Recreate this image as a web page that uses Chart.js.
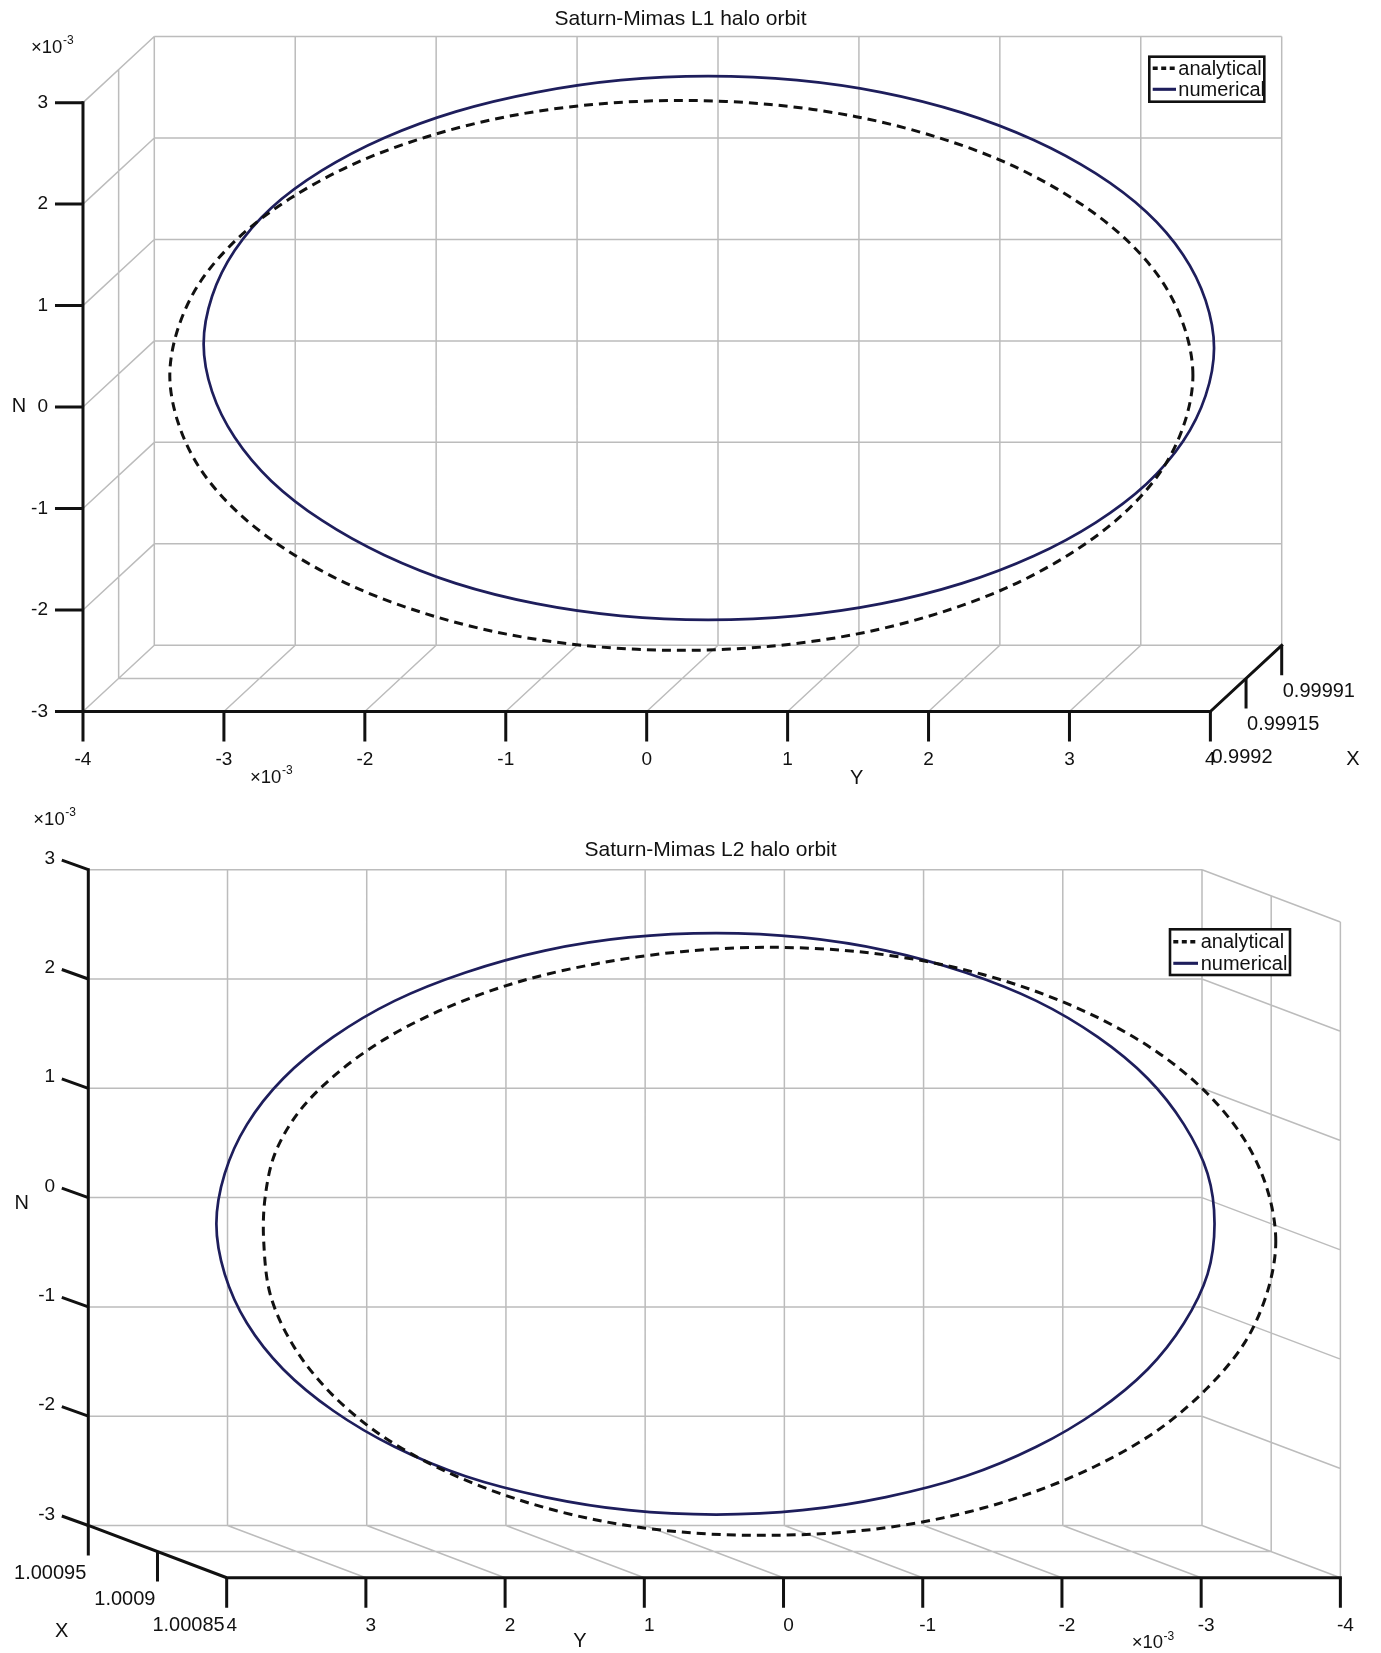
<!DOCTYPE html>
<html>
<head>
<meta charset="utf-8">
<title>Saturn-Mimas halo orbits</title>
<script src="https://cdn.jsdelivr.net/npm/chart.js@4/dist/chart.umd.min.js"></script>
<style>
  html, body { margin: 0; padding: 0; background: #fff; }
  #wrap { position: relative; width: 1381px; height: 1653px; }
  canvas { position: absolute; left: 0; }
  #l1 { top: 0; }
  #l2 { top: 800px; }
</style>
</head>
<body>
<div id="wrap">
  <canvas id="l1" width="1381" height="800"></canvas>
  <canvas id="l2" width="1381" height="853"></canvas>
</div>
<script>
// ---- axis ticks (Y and N in units of 1e-3) ----
const Y_TICKS = [-4, -3, -2, -1, 0, 1, 2, 3, 4];
const N_TICKS = [-3, -2, -1, 0, 1, 2, 3];
const DEPTH_TICKS = [0, 0.5, 1];                       // back, middle, front of the X axis
const L1_X_TICK_LABELS = ['0.99991', '0.99915', '0.9992'];
const L2_X_TICK_LABELS = ['1.00095', '1.0009', '1.00085'];
const SERIES_LABELS = ['analytical', 'numerical'];
const TITLES = ['Saturn-Mimas L1 halo orbit', 'Saturn-Mimas L2 halo orbit'];

// ---- L1 halo orbit, sampled around the loop ----
const L1_ANALYTICAL_Y = [3.37, 3.31, 3.15, 2.88, 2.52, 2.07, 1.55, 0.98, 0.37, -0.26, -0.89, -1.50, -2.07, -2.59, -3.04, -3.40, -3.67, -3.83, -3.89, -3.83, -3.67, -3.40, -3.04, -2.59, -2.07, -1.50, -0.89, -0.26, 0.37, 0.98, 1.55, 2.07, 2.52, 2.88, 3.15, 3.31];
const L1_ANALYTICAL_N = [-0.34, 0.13, 0.59, 1.02, 1.40, 1.74, 2.01, 2.21, 2.33, 2.37, 2.33, 2.21, 2.01, 1.74, 1.40, 1.02, 0.59, 0.13, -0.34, -0.81, -1.27, -1.70, -2.08, -2.42, -2.69, -2.89, -3.01, -3.05, -3.01, -2.89, -2.69, -2.42, -2.08, -1.70, -1.27, -0.81];
const L1_NUMERICAL_Y = [3.52, 3.46, 3.30, 3.04, 2.68, 2.24, 1.73, 1.16, 0.56, -0.07, -0.69, -1.29, -1.86, -2.37, -2.81, -3.17, -3.43, -3.59, -3.65, -3.59, -3.43, -3.17, -2.81, -2.37, -1.86, -1.29, -0.69, -0.07, 0.56, 1.16, 1.73, 2.24, 2.68, 3.04, 3.30, 3.46];
const L1_NUMERICAL_N = [-0.07, 0.40, 0.85, 1.27, 1.65, 1.98, 2.25, 2.45, 2.57, 2.61, 2.57, 2.45, 2.26, 2.00, 1.68, 1.31, 0.89, 0.44, -0.03, -0.50, -0.95, -1.38, -1.77, -2.11, -2.39, -2.59, -2.71, -2.75, -2.71, -2.59, -2.39, -2.12, -1.79, -1.41, -0.99, -0.54];

// ---- L2 halo orbit ----
const L2_ANALYTICAL_Y = [-4.53, -4.47, -4.31, -4.04, -3.68, -3.23, -2.71, -2.14, -1.53, -0.89, -0.26, 0.35, 0.92, 1.44, 1.87, 2.22, 2.49, 2.66, 2.73, 2.74, 2.69, 2.52, 2.25, 1.89, 1.44, 0.92, 0.35, -0.26, -0.89, -1.53, -2.14, -2.71, -3.23, -3.68, -4.04, -4.31, -4.47];
const L2_ANALYTICAL_N = [-0.40, 0.07, 0.52, 0.95, 1.33, 1.66, 1.93, 2.13, 2.25, 2.29, 2.25, 2.14, 1.97, 1.73, 1.45, 1.13, 0.78, 0.40, 0.00, -0.40, -0.90, -1.37, -1.80, -2.18, -2.50, -2.76, -2.95, -3.06, -3.09, -3.05, -2.93, -2.73, -2.46, -2.13, -1.74, -1.32, -0.86];
const L2_NUMERICAL_Y = [-4.09, -4.04, -3.87, -3.61, -3.25, -2.81, -2.30, -1.73, -1.13, -0.51, 0.12, 0.72, 1.29, 1.80, 2.24, 2.60, 2.86, 3.02, 3.08, 3.02, 2.86, 2.60, 2.24, 1.80, 1.29, 0.72, 0.12, -0.51, -1.13, -1.73, -2.30, -2.81, -3.25, -3.61, -3.87, -4.04];
const L2_NUMERICAL_N = [-0.24, 0.22, 0.67, 1.09, 1.47, 1.80, 2.06, 2.26, 2.38, 2.42, 2.38, 2.26, 2.06, 1.80, 1.47, 1.09, 0.67, 0.22, -0.24, -0.70, -1.15, -1.57, -1.95, -2.28, -2.55, -2.74, -2.86, -2.90, -2.86, -2.74, -2.55, -2.28, -1.95, -1.57, -1.15, -0.70];

// ---- styles ----
const FONT = "'Liberation Sans', Arial, Helvetica, sans-serif";
const INK = '#111111';
const GRID = '#bcbcbc';
const ANALYTICAL_STYLE = { color: '#111111', width: 3, dash: [9, 6] };
const NUMERICAL_STYLE = { color: '#1e1e5c', width: 2.7, dash: [] };

// Closed orbit: the samples plus one wrap-around point at each end so the
// spline keeps a smooth tangent where the loop closes; the two wrap segments
// themselves are left transparent.
function closedLoop(ys, ns) {
  const n = ys.length;
  const idx = [n - 1];
  for (let i = 0; i < n; i++) idx.push(i);
  idx.push(0, 1);
  return idx.map(i => ({ x: ys[i], y: ns[i] }));
}

function orbitDataset(label, ys, ns, style) {
  const data = closedLoop(ys, ns);
  const last = data.length - 1;
  return {
    label,
    data,
    showLine: true,
    pointRadius: 0,
    tension: 0.33,
    clip: false,
    borderColor: style.color,
    borderWidth: style.width,
    borderDash: style.dash,
    segment: {
      borderColor: c => (c.p0DataIndex === 0 || c.p1DataIndex === last) ? 'rgba(0,0,0,0)' : undefined
    }
  };
}

// Oblique box drawn around the back plane (the chart area): d = 0 is the back
// wall, d = 1 the front edge; depth shifts Y and N by cfg.depth per unit of d.
function makeBoxPlugin(cfg) {
  const yMin = Y_TICKS[0], yMax = Y_TICKS[Y_TICKS.length - 1];
  const nMin = N_TICKS[0], nMax = N_TICKS[N_TICKS.length - 1];

  function P(chart, Y, N, d) {
    return [chart.scales.x.getPixelForValue(Y + d * cfg.depth.dY),
            chart.scales.y.getPixelForValue(N + d * cfg.depth.dN)];
  }
  function seg(ctx, a, b) { ctx.moveTo(a[0], a[1]); ctx.lineTo(b[0], b[1]); }

  function exponent(ctx, x, y) {
    ctx.textAlign = 'left';
    ctx.textBaseline = 'middle';
    ctx.font = `18.5px ${FONT}`;
    ctx.fillText('×10', x, y);
    const w = ctx.measureText('×10').width;
    ctx.font = `12px ${FONT}`;
    ctx.fillText('-3', x + w + 0.5, y - 7);
  }

  return {
    id: 'box3d',
    beforeDatasetsDraw(chart) {
      const ctx = chart.ctx;
      ctx.save();
      ctx.strokeStyle = GRID;
      ctx.lineWidth = 1.5;
      ctx.beginPath();
      // back wall
      Y_TICKS.forEach(v => seg(ctx, P(chart, v, nMin, 0), P(chart, v, nMax, 0)));
      N_TICKS.forEach(v => seg(ctx, P(chart, yMin, v, 0), P(chart, yMax, v, 0)));
      // floor
      Y_TICKS.forEach(v => seg(ctx, P(chart, v, nMin, 0), P(chart, v, nMin, 1)));
      DEPTH_TICKS.forEach(d => seg(ctx, P(chart, yMin, nMin, d), P(chart, yMax, nMin, d)));
      // side wall
      N_TICKS.forEach(v => seg(ctx, P(chart, cfg.sideY, v, 0), P(chart, cfg.sideY, v, 1)));
      DEPTH_TICKS.forEach(d => seg(ctx, P(chart, cfg.sideY, nMin, d), P(chart, cfg.sideY, nMax, d)));
      ctx.stroke();
      ctx.restore();
    },
    afterDatasetsDraw(chart) {
      const ctx = chart.ctx;
      ctx.save();

      // axis lines
      ctx.strokeStyle = INK;
      ctx.lineWidth = 3;
      ctx.lineCap = 'square';
      ctx.beginPath();
      seg(ctx, P(chart, cfg.nAxisY, nMin, cfg.nAxisD), P(chart, cfg.nAxisY, nMax, cfg.nAxisD));
      seg(ctx, P(chart, yMin, nMin, 1), P(chart, yMax, nMin, 1));
      seg(ctx, P(chart, cfg.xAxisY, nMin, 0), P(chart, cfg.xAxisY, nMin, 1));
      ctx.stroke();

      // tick marks
      ctx.lineCap = 'butt';
      ctx.beginPath();
      N_TICKS.forEach(v => {
        const p = P(chart, cfg.nAxisY, v, cfg.nAxisD);
        seg(ctx, p, [p[0] + cfg.nTick[0], p[1] + cfg.nTick[1]]);
      });
      Y_TICKS.forEach(v => {
        const p = P(chart, v, nMin, 1);
        seg(ctx, p, [p[0], p[1] + cfg.tickLen]);
      });
      DEPTH_TICKS.forEach(d => {
        const p = P(chart, cfg.xAxisY, nMin, d);
        seg(ctx, p, [p[0], p[1] + cfg.tickLen]);
      });
      ctx.stroke();

      // tick labels
      ctx.fillStyle = INK;
      ctx.textBaseline = 'middle';
      ctx.font = `19px ${FONT}`;
      ctx.textAlign = 'right';
      N_TICKS.forEach(v => {
        const p = P(chart, cfg.nAxisY, v, cfg.nAxisD);
        ctx.fillText(String(v), p[0] + cfg.nTick[0] + cfg.nLabel[0], p[1] + cfg.nTick[1] + cfg.nLabel[1]);
      });
      ctx.textAlign = 'center';
      Y_TICKS.forEach(v => {
        const p = P(chart, v, nMin, 1);
        ctx.fillText(String(v), p[0] + cfg.yLabelDx, p[1] + cfg.tickLen + cfg.yLabelGap);
      });
      ctx.font = `20px ${FONT}`;
      ctx.textAlign = cfg.xLabelAlign;
      DEPTH_TICKS.forEach((d, i) => {
        const p = P(chart, cfg.xAxisY, nMin, d);
        ctx.fillText(cfg.xLabels[i], p[0] + cfg.xLabelDx, p[1] + cfg.tickLen + cfg.xLabelGap);
      });

      // axis names
      ctx.font = `20px ${FONT}`;
      ctx.textAlign = 'center';
      ctx.fillText('N', cfg.names.N[0], cfg.names.N[1]);
      ctx.fillText('Y', cfg.names.Y[0], cfg.names.Y[1]);
      ctx.fillText('X', cfg.names.X[0], cfg.names.X[1]);
      cfg.exponents.forEach(e => exponent(ctx, e[0], e[1]));

      // title
      ctx.font = `21px ${FONT}`;
      ctx.textAlign = 'center';
      ctx.fillText(cfg.title.text, cfg.title.x, cfg.title.y);

      // legend
      const L = cfg.legend;
      ctx.fillStyle = '#ffffff';
      ctx.fillRect(L.x, L.y, L.w, L.h);
      chart.data.datasets.forEach((ds, i) => {
        const y = L.rows[i];
        ctx.strokeStyle = ds.borderColor;
        ctx.lineWidth = ds.borderWidth + 0.4;
        ctx.setLineDash(ds.borderDash.length ? L.dash : []);
        ctx.beginPath();
        ctx.moveTo(L.sample[0], y);
        ctx.lineTo(L.sample[1], y);
        ctx.stroke();
        ctx.setLineDash([]);
        ctx.fillStyle = INK;
        ctx.font = `20px ${FONT}`;
        ctx.textAlign = 'left';
        ctx.textBaseline = 'middle';
        ctx.fillText(ds.label, L.textX, y + 1);
      });
      ctx.strokeStyle = INK;
      ctx.lineWidth = 2.6;
      ctx.strokeRect(L.x, L.y, L.w, L.h);

      ctx.restore();
    }
  };
}

function makeChart(canvasId, datasets, reverseY, padding, cfg) {
  return new Chart(document.getElementById(canvasId), {
    type: 'scatter',
    data: { datasets },
    options: {
      responsive: false,
      animation: false,
      events: [],
      layout: { padding },
      elements: { line: { capBezierPoints: false } },
      scales: {
        x: { type: 'linear', min: Y_TICKS[0], max: Y_TICKS[Y_TICKS.length - 1], reverse: reverseY, display: false },
        y: { type: 'linear', min: N_TICKS[0], max: N_TICKS[N_TICKS.length - 1], display: false }
      },
      plugins: { legend: { display: false }, tooltip: { enabled: false } }
    },
    plugins: [makeBoxPlugin(cfg)]
  });
}

// L1: left wall visible, Y increasing to the right
makeChart('l1', [
  orbitDataset(SERIES_LABELS[0], L1_ANALYTICAL_Y, L1_ANALYTICAL_N, ANALYTICAL_STYLE),
  orbitDataset(SERIES_LABELS[1], L1_NUMERICAL_Y, L1_NUMERICAL_N, NUMERICAL_STYLE)
], false, { left: 154.3, right: 99.3, top: 36.5, bottom: 154.7 }, {
  depth: { dY: -0.506, dN: -0.652 },
  sideY: -4, nAxisY: -4, nAxisD: 1, xAxisY: 4,
  nTick: [-28, 0], nLabel: [-7, 0],
  tickLen: 30, yLabelDx: 0, yLabelGap: 18,
  xLabels: L1_X_TICK_LABELS, xLabelAlign: 'left', xLabelDx: 1, xLabelGap: 16,
  title: { text: TITLES[0], x: 680.5, y: 19 },
  names: { N: [19, 406.7], Y: [856.7, 778.3], X: [1353, 759] },
  exponents: [[31, 48], [250, 777.7]],
  legend: { x: 1149.3, y: 56.7, w: 115, h: 45, textX: 1178.3, rows: [68.3, 89.3], sample: [1152.7, 1176], dash: [5, 3.5] }
});

// L2: Y axis reversed, right wall visible
makeChart('l2', [
  orbitDataset(SERIES_LABELS[0], L2_ANALYTICAL_Y, L2_ANALYTICAL_N, ANALYTICAL_STYLE),
  orbitDataset(SERIES_LABELS[1], L2_NUMERICAL_Y, L2_NUMERICAL_N, NUMERICAL_STYLE)
], true, { left: 88.3, right: 179, top: 69.7, bottom: 127.5 }, {
  depth: { dY: -0.994, dN: -0.478 },
  sideY: -4, nAxisY: 4, nAxisD: 0, xAxisY: 4,
  nTick: [-26.5, -9.5], nLabel: [-6.7, -1.6],
  tickLen: 30, yLabelDx: 5, yLabelGap: 18,
  xLabels: L2_X_TICK_LABELS, xLabelAlign: 'right', xLabelDx: -2, xLabelGap: 18,
  title: { text: TITLES[1], x: 710.5, y: 50 },
  names: { N: [21.7, 403.3], Y: [580, 841.7], X: [61.7, 831.7] },
  exponents: [[33.3, 20], [1131.7, 843.3]],
  legend: { x: 1170, y: 129.3, w: 120, h: 45.7, textX: 1200.7, rows: [141.7, 163.3], sample: [1173.3, 1198], dash: [5, 3.5] }
});
</script>
</body>
</html>
